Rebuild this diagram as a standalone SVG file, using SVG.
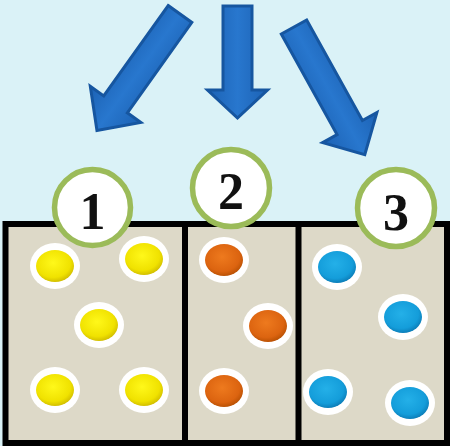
<svg xmlns="http://www.w3.org/2000/svg" width="450" height="446" viewBox="0 0 450 446">
<defs>
<style>
.arrow{fill:url(#ag);stroke:#1656A0;stroke-width:3;stroke-linejoin:miter}
.ring{fill:#FFFFFF}
.badge{fill:#FFFFFF;stroke:#9BBB59;stroke-width:5.5}
.num{font-family:"Liberation Serif","DejaVu Serif",serif;font-weight:bold;font-size:52px;fill:#111111;text-anchor:middle}
.box{fill:#DDD9C8;stroke:#000000;stroke-width:6}
.y{fill:url(#gy)}.o{fill:url(#go)}.b{fill:url(#gb)}
</style>
<linearGradient id="ag" x1="0" y1="0" x2="1" y2="0">
<stop offset="0" stop-color="#1C62B4"/><stop offset="0.5" stop-color="#2877CE"/><stop offset="1" stop-color="#1C62B4"/>
</linearGradient>
<radialGradient id="gy" cx="0.45" cy="0.4" r="0.65"><stop offset="0" stop-color="#FFF81A"/><stop offset="0.7" stop-color="#F0E200"/><stop offset="1" stop-color="#C9B400"/></radialGradient>
<radialGradient id="go" cx="0.45" cy="0.4" r="0.65"><stop offset="0" stop-color="#EE7A1E"/><stop offset="0.7" stop-color="#DC6410"/><stop offset="1" stop-color="#B04C00"/></radialGradient>
<radialGradient id="gb" cx="0.45" cy="0.4" r="0.65"><stop offset="0" stop-color="#24B0E8"/><stop offset="0.7" stop-color="#149DDA"/><stop offset="1" stop-color="#0A74AE"/></radialGradient>
</defs>
<rect x="0" y="0" width="450" height="446" fill="#DAF2F7"/>
<g id="connectors">
<polygon class="arrow" transform="translate(180,14) rotate(35.5)" points="-14.5,0 14.5,0 14.5,111 31,111 0,143 -31,111 -14.5,111"/>
<polygon class="arrow" transform="translate(237.5,6)" points="-14.5,0 14.5,0 14.5,84 30,84 0,112 -30,84 -14.5,84"/>
<polygon class="arrow" transform="translate(294,27) rotate(-29)" points="-14.5,0 14.5,0 14.5,115 31,115 0,146 -31,115 -14.5,115"/>
</g>
<g id="box">
<rect class="box" x="5.5" y="224" width="441.5" height="219"/>
<line x1="185" y1="224" x2="185" y2="443" stroke="#000" stroke-width="6"/>
<line x1="298.5" y1="224" x2="298.5" y2="443" stroke="#000" stroke-width="6"/>
</g>
<g id="group1">
<ellipse class="ring" cx="55" cy="266" rx="25" ry="23"/><ellipse class="y" cx="55" cy="266" rx="19" ry="16"/>
<ellipse class="ring" cx="144" cy="259" rx="25" ry="23"/><ellipse class="y" cx="144" cy="259" rx="19" ry="16"/>
<ellipse class="ring" cx="99" cy="325" rx="25" ry="23"/><ellipse class="y" cx="99" cy="325" rx="19" ry="16"/>
<ellipse class="ring" cx="55" cy="390" rx="25" ry="23"/><ellipse class="y" cx="55" cy="390" rx="19" ry="16"/>
<ellipse class="ring" cx="144" cy="390" rx="25" ry="23"/><ellipse class="y" cx="144" cy="390" rx="19" ry="16"/>
</g>
<g id="group2">
<ellipse class="ring" cx="224" cy="260" rx="25" ry="23"/><ellipse class="o" cx="224" cy="260" rx="19" ry="16"/>
<ellipse class="ring" cx="268" cy="326" rx="25" ry="23"/><ellipse class="o" cx="268" cy="326" rx="19" ry="16"/>
<ellipse class="ring" cx="224" cy="391" rx="25" ry="23"/><ellipse class="o" cx="224" cy="391" rx="19" ry="16"/>
</g>
<g id="group3">
<ellipse class="ring" cx="337" cy="267" rx="25" ry="23"/><ellipse class="b" cx="337" cy="267" rx="19" ry="16"/>
<ellipse class="ring" cx="403" cy="317" rx="25" ry="23"/><ellipse class="b" cx="403" cy="317" rx="19" ry="16"/>
<ellipse class="ring" cx="328" cy="392" rx="25" ry="23"/><ellipse class="b" cx="328" cy="392" rx="19" ry="16"/>
<ellipse class="ring" cx="410" cy="403" rx="25" ry="23"/><ellipse class="b" cx="410" cy="403" rx="19" ry="16"/>
</g>
<g id="badge1"><circle class="badge" cx="92.5" cy="207.5" r="38"/><text class="num" x="92.5" y="229">1</text></g>
<g id="badge2"><circle class="badge" cx="231" cy="188" r="38.5"/><text class="num" x="231" y="209">2</text></g>
<g id="badge3"><circle class="badge" cx="396" cy="208" r="38.5"/><text class="num" x="396" y="230">3</text></g>
</svg>
